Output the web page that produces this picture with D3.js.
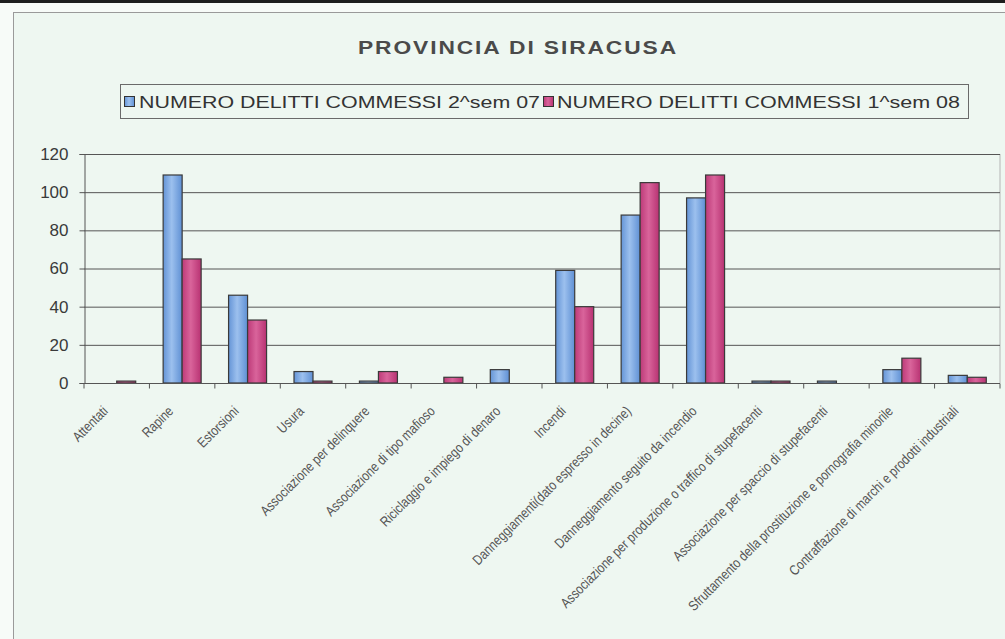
<!DOCTYPE html>
<html>
<head>
<meta charset="utf-8">
<script src="https://cdn.jsdelivr.net/npm/d3@7"></script>
<style>
  html, body { margin: 0; padding: 0; background: #f7fbf8; }
  svg { display: block; }
</style>
</head>
<body>
<svg id="chart" width="1005" height="639"></svg>
<script>
// ---------- DATA ----------
const categories = [
  "Attentati",
  "Rapine",
  "Estorsioni",
  "Usura",
  "Associazione per delinquere",
  "Associazione di tipo mafioso",
  "Riciclaggio e impiego di denaro",
  "Incendi",
  "Danneggiamenti(dato espresso in decine)",
  "Danneggiamento seguito da incendio",
  "Associazione per produzione o traffico di stupefacenti",
  "Associazione per spaccio di stupefacenti",
  "Sfruttamento della prostituzione e pornografia minorile",
  "Contraffazione di marchi e prodotti industriali"
];
const seriesNames = ["NUMERO DELITTI COMMESSI 2^sem 07", "NUMERO DELITTI COMMESSI 1^sem 08"];
const sem2_07 = [0, 109, 46, 6, 1, 0, 7, 59, 88, 97, 1, 1, 7, 4];
const sem1_08 = [1, 65, 33, 1, 6, 3, 0, 40, 105, 109, 1, 0, 13, 3];
const yTicks = [0, 20, 40, 60, 80, 100, 120];
const titleText = "PROVINCIA DI SIRACUSA";

// ---------- LAYOUT ----------
const svg = d3.select("#chart");
const W = 1005, H = 639;
const plot = { left: 84, right: 1000, top: 154, bottom: 383 };

const defs = svg.append("defs");
function grad(id, stops) {
  const g = defs.append("linearGradient").attr("id", id)
    .attr("x1", "0%").attr("x2", "100%").attr("y1", "0%").attr("y2", "0%");
  stops.forEach(([o, c]) => g.append("stop").attr("offset", o).attr("stop-color", c));
}
grad("gBlue", [["0%", "#6494d6"], ["45%", "#9cc0ee"], ["100%", "#5f90d4"]]);
grad("gPink", [["0%", "#bd3a78"], ["45%", "#d9649b"], ["100%", "#b83272"]]);

// background / frame
svg.append("rect").attr("x", 0).attr("y", 0).attr("width", W).attr("height", H).attr("fill", "#f7fbf8");
svg.append("rect").attr("x", 13.5).attr("y", 12.5).attr("width", W).attr("height", H)
  .attr("fill", "#eef7f1").attr("stroke", "#9a9a9a").attr("stroke-width", 1);
svg.append("rect").attr("x", 0).attr("y", 0).attr("width", 1005).attr("height", 3).attr("fill", "#1e1e1e");

// scales
const x = d3.scaleBand().domain(categories).range([plot.left, plot.right]).paddingInner(0).paddingOuter(0);
const y = d3.scaleLinear().domain([0, 120]).range([plot.bottom, plot.top]);
const barW = 19;

// right border of plot area
svg.append("line").attr("x1", plot.right).attr("x2", plot.right)
  .attr("y1", plot.top).attr("y2", plot.bottom).attr("stroke", "#b5b5b5");

// gridlines
svg.append("g").selectAll("line").data(yTicks.filter(d => d > 0)).join("line")
  .attr("x1", plot.left).attr("x2", plot.right)
  .attr("y1", d => y(d) + 0.5).attr("y2", d => y(d) + 0.5)
  .attr("stroke", "#555").attr("stroke-width", 1);

// y axis
const yAxis = svg.append("g").attr("transform", `translate(${plot.left + 0.5},0)`)
  .call(d3.axisLeft(y).tickValues(yTicks).tickSize(5).tickPadding(11));
yAxis.select(".domain").attr("stroke", "#555");
yAxis.selectAll(".tick line").attr("stroke", "#555");
yAxis.selectAll("text").attr("font-family", "Liberation Sans, Arial, sans-serif")
  .attr("font-size", 17).attr("fill", "#3a3a3a");

// bars
const series = [
  { vals: sem2_07, fill: "url(#gBlue)", off: -barW },
  { vals: sem1_08, fill: "url(#gPink)", off: 0 }
];
series.forEach(s => {
  const rows = categories.map((c, i) => ({ c, v: s.vals[i] })).filter(d => d.v > 0);
  svg.append("g").selectAll("rect").data(rows).join("rect")
    .attr("x", d => x(d.c) + x.bandwidth() / 2 + s.off)
    .attr("width", barW)
    .attr("y", d => y(d.v))
    .attr("height", d => plot.bottom - y(d.v))
    .attr("fill", s.fill).attr("stroke", "#3a3a3a").attr("stroke-width", 1.2);
});

// x axis
const xAxisG = svg.append("g").attr("transform", `translate(0,${plot.bottom + 0.5})`);
xAxisG.append("line").attr("x1", plot.left).attr("x2", plot.right).attr("y1", 0).attr("y2", 0).attr("stroke", "#555");
const boundaries = categories.map(c => x(c)).concat([plot.right]);
xAxisG.selectAll("line.tk").data(boundaries).join("line").attr("class", "tk")
  .attr("x1", d => d).attr("x2", d => d).attr("y1", 0).attr("y2", 5).attr("stroke", "#555");

// category labels: tall, condensed
const labels = svg.append("g").selectAll("text").data(categories).join("text")
  .attr("text-anchor", "end")
  .attr("font-family", "Liberation Sans, Arial, sans-serif")
  .attr("font-size", 14).attr("fill", "#555")
  .text(c => c);
// condense so the longest measured reference label ("Danneggiamenti(...)") is ~218px long
const refNode = labels.filter(c => c === categories[8]).node();
const sx = Math.min(1, 218 / refNode.getComputedTextLength());
labels.attr("transform", c => `translate(${x(c) + x.bandwidth() / 2 - 8},412) rotate(-45) scale(${sx},1)`);

// title
svg.append("text").attr("x", 358).attr("y", 54)
  .attr("font-family", "Liberation Sans, Arial, sans-serif").attr("font-weight", "bold")
  .attr("font-size", 18).attr("fill", "#4a4a4a")
  .style("letter-spacing", "1.5px")
  .attr("textLength", 320).attr("lengthAdjust", "spacingAndGlyphs")
  .text(titleText);

// legend
svg.append("rect").attr("x", 120.5).attr("y", 84.5).attr("width", 848).attr("height", 34)
  .attr("fill", "none").attr("stroke", "#6a6a6a");
const legItems = [
  { sw: 124, tx: 139, tl: 401, fill: "url(#gBlue)", name: seriesNames[0] },
  { sw: 543, tx: 557, tl: 403, fill: "url(#gPink)", name: seriesNames[1] }
];
legItems.forEach(l => {
  svg.append("rect").attr("x", l.sw + 0.5).attr("y", 96.5).attr("width", 10).attr("height", 10)
    .attr("fill", l.fill).attr("stroke", "#333");
  svg.append("text").attr("x", l.tx).attr("y", 108)
    .attr("font-family", "Liberation Sans, Arial, sans-serif")
    .attr("font-size", 17).attr("fill", "#333")
    .attr("textLength", l.tl).attr("lengthAdjust", "spacingAndGlyphs")
    .text(l.name);
});
</script>
</body>
</html>
